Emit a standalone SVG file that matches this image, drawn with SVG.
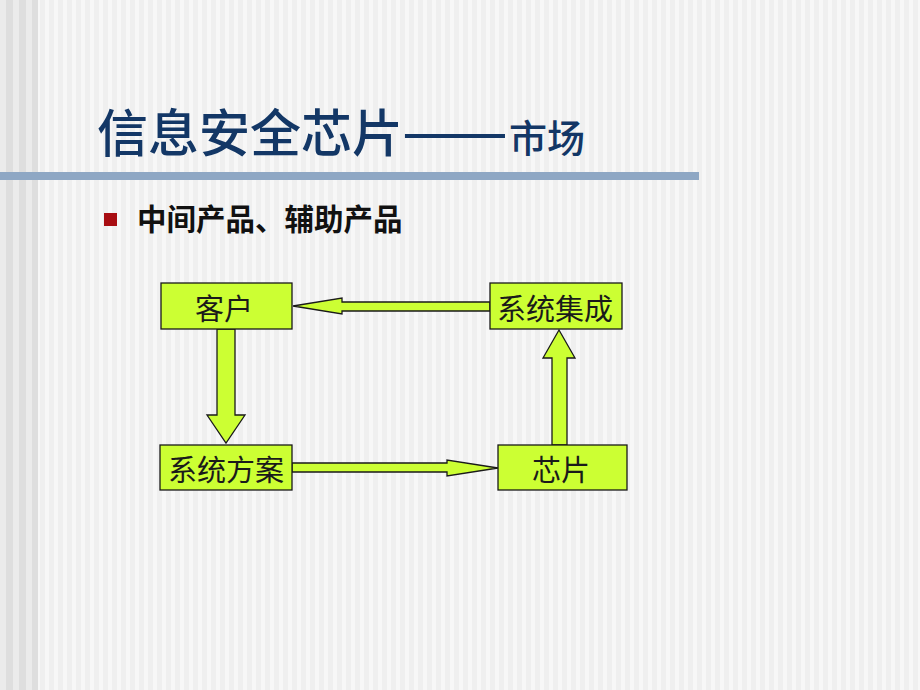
<svg xmlns="http://www.w3.org/2000/svg" width="920" height="690" viewBox="0 0 920 690">
<defs>
<pattern id="stripes" x="0" y="0" width="9" height="690" patternUnits="userSpaceOnUse">
<rect x="0" y="0" width="9" height="690" fill="#efefef"/>
<rect x="0" y="0" width="4" height="690" fill="#f7f7f7"/>
</pattern>
<pattern id="stripesL" x="0" y="0" width="13" height="690" patternUnits="userSpaceOnUse">
<rect x="0" y="0" width="13" height="690" fill="#dedede"/>
<rect x="0" y="0" width="6" height="690" fill="#ebebeb"/>
</pattern>
<style>
.box{fill:#ccff33;stroke:#1a1a1a;stroke-width:1.3}
.arrow{fill:#ccff33;stroke:#1a1a1a;stroke-width:1.3;stroke-linejoin:miter}
.lbl{font-family:"Noto Sans CJK SC","Noto Sans CJK JP",sans-serif;font-size:29px;fill:#1a1a1a;text-anchor:middle}
.title{font-family:"Noto Sans CJK SC","Noto Sans CJK JP",sans-serif;fill:#133766;font-weight:500}
</style>
</defs>
<rect x="0" y="0" width="920" height="690" fill="url(#stripes)"/>
<rect x="0" y="0" width="38" height="690" fill="url(#stripesL)"/>
<text class="title" x="97" y="152" font-size="51">信息安全芯片</text>
<text class="title" x="402" y="150" font-size="51" textLength="106" lengthAdjust="spacingAndGlyphs">——</text>
<text class="title" x="509" y="152" font-size="38">市场</text>
<rect x="0" y="172" width="699" height="8" fill="#8ea7c4"/>
<rect x="104" y="213" width="13" height="13" fill="#a80d12"/>
<text x="137" y="230" font-family="'Noto Sans CJK SC','Noto Sans CJK JP',sans-serif" font-size="29.5" font-weight="bold" fill="#111">中间产品、辅助产品</text>
<g id="connectors">
<polygon class="arrow" points="490,302 342,302 342,298 293,306 342,314 342,311 490,311"/>
<polygon class="arrow" points="217,329 235,329 235,415 245,415 226,443 207,415 217,415"/>
<polygon class="arrow" points="292,463 447,463 447,460 498,468 447,476 447,472 292,472"/>
<polygon class="arrow" points="552,445 552,358 543,358 559,330 575,358 567,358 567,445"/>
</g>
<g id="kehu"><rect class="box" x="161" y="283" width="131" height="46"/><text class="lbl" x="224" y="320">客户</text></g>
<g id="jicheng"><rect class="box" x="490" y="283" width="132" height="46"/><text class="lbl" x="555" y="320">系统集成</text></g>
<g id="fangan"><rect class="box" x="160" y="445" width="132" height="45"/><text class="lbl" x="226" y="481">系统方案</text></g>
<g id="xinpian"><rect class="box" x="498" y="445" width="129" height="45"/><text class="lbl" x="561" y="481">芯片</text></g>
</svg>
